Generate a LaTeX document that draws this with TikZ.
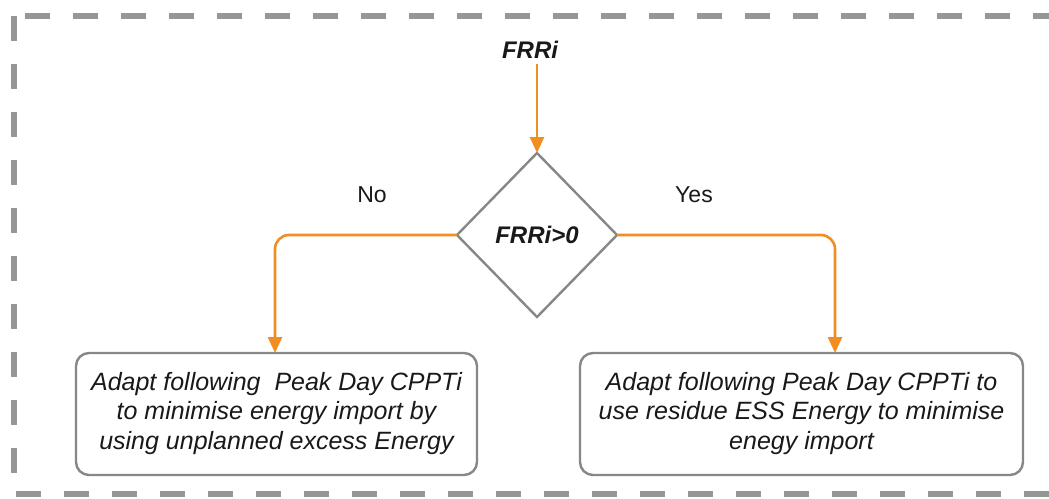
\documentclass[tikz,border=0pt]{standalone}
\usepackage{fontspec}
\setmainfont{Liberation Sans}
\usetikzlibrary{arrows.meta}
\definecolor{flow}{RGB}{240,142,34}
\definecolor{frame}{RGB}{150,150,150}
\definecolor{edge}{RGB}{135,135,135}
\definecolor{ink}{RGB}{25,25,25}
\tikzset{
  procbox/.style={draw=edge, line width=2.4pt, rounded corners=13pt, fill=white,
    minimum width=#1, minimum height=122pt, align=center, text=ink,
    font=\fontsize{25}{29.5}\selectfont\itshape, inner sep=0pt},
  decision/.style={draw=edge, line width=2.4pt, fill=white},
  flowline/.style={draw=flow, line width=2.6pt, rounded corners=14pt,
    -{Triangle[length=16pt,width=14pt]}},
  branchlabel/.style={font=\fontsize{23}{26}\selectfont, text=ink},
}
\begin{document}
\begin{tikzpicture}[x=1pt,y=-1pt]
\useasboundingbox (0,0) rectangle (1049,498);
% dashed frame, open on the right
\begin{scope}
\clip (0,0) rectangle (1049,498);
\draw[frame, line width=6pt, dash pattern=on 25pt off 23pt] (14,16) rectangle (1090,494);
\end{scope}
% start label
\node[font=\fontsize{24}{27}\selectfont\bfseries\itshape, text=ink] (start) at (530,50) {FRRi};
% decision diamond
\coordinate (dc) at (537,235);
\draw[decision] (537,153) -- (617,235) -- (537,317) -- (457,235) -- cycle;
\coordinate (dtop) at (537,153);
\coordinate (dleft) at (457,235);
\coordinate (dright) at (617,235);
\node[font=\fontsize{24}{27}\selectfont\bfseries\itshape, text=ink] (cond) at (dc) {FRRi>0};
% outcome boxes
\node[procbox=401pt] (no) at (276.5,414) {\raisebox{-2pt}{\begin{tabular}{@{}c@{}}Adapt following\ \ Peak Day CPPTi\\to minimise energy import by\\using unplanned excess Energy\end{tabular}}};
\node[procbox=443pt] (yes) at (801.5,414) {\raisebox{-2pt}{\begin{tabular}{@{}c@{}}Adapt following Peak Day CPPTi to\\use residue ESS Energy to minimise\\enegy import\end{tabular}}};
% connectors
\coordinate (start-out) at (537,64);
\draw[flowline] (start-out) -- (dtop);
\draw[flowline] (dleft) -- (275,235) -- (275,353);
\draw[flowline] (dright) -- (835,235) -- (835,353);
% branch labels
\node[branchlabel] (lno) at (372,195) {No};
\node[branchlabel] (lyes) at (694,195) {Yes};
\end{tikzpicture}
\end{document}
